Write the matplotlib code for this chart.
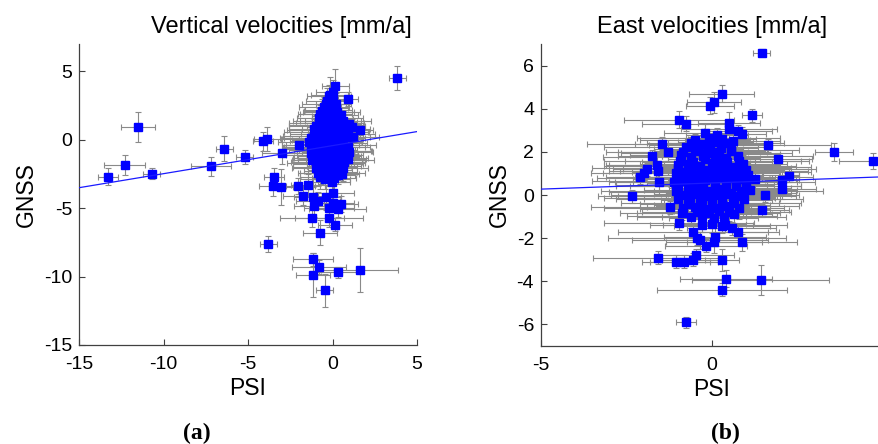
"""PSI vs GNSS velocity comparison: vertical (a) and east (b) components."""

import matplotlib
matplotlib.use("Agg")
import matplotlib.pyplot as plt
import numpy as np

# --- (a) vertical velocities [mm/a] -------------------------------------------
vert_psi = [
    3.82, -11.5, -12.3, -13.3, -10.7, -7.2, -6.4, -5.2, -4.1, -3.85, -3.0, -2.0,
    -3.45, -3.55, -3.05, -2.05, -1.75, -1.45, -1.15, -0.85, -1.1, -0.4, 0.05, 0.0,
    0.5, -0.2, 0.3, -1.2, -0.2, 0.15, -0.75, -3.8, -1.15, -0.8, -1.15, 0.3, 1.6,
    -0.45, 0.15, 0.0, -0.2, 0.9, 1.15, 1.6, 1.2, 1.0,
    # dense cluster
    -0.35, -0.1, 0.05, -0.5, -0.6, -0.25, 0.1, 0.25, -0.45,
    -0.8, -0.55, -0.3, 0.0, 0.3, 0.45, -0.15,
    -0.95, -0.7, -0.4, -0.1, 0.2, 0.5, 0.7, -0.85, 0.05,
    -1.1, -0.8, -0.55, -0.25, 0.0, 0.3, 0.6, 0.85, -1.0, -0.4, 0.15,
    -1.25, -0.95, -0.7, -0.45, -0.15, 0.1, 0.35, 0.65, 0.9, -1.4,
    -1.3, -1.0, -0.75, -0.5, -0.2, 0.05, 0.3, 0.55, 0.8, 1.0,
    -1.2, -0.9, -0.65, -0.35, -0.05, 0.2, 0.45, 0.7, 0.9,
    -1.0, -0.7, -0.45, -0.15, 0.1, 0.35, 0.6,
    -0.75, -0.45, -0.2, 0.1, 0.35, -0.05,
    -0.15, -0.4, 0.2, -0.05, -0.75, 0.5, -0.65, -0.3, 0.15, 0.6,
    -1.1, -0.5, -0.25, 0.35, 0.9, -1.25, -0.6, 0.45, -1.1, -0.55,
    0.25, -0.85, -0.1, 0.55, -0.55, -0.2, 0.3, -0.85, 0.0, 0.55,
]
vert_gnss = [
    4.5, 0.95, -1.85, -2.7, -2.5, -1.95, -0.65, -1.25, -0.1, 0.05, -1.0, -0.35,
    -2.7, -3.4, -3.45, -3.4, -4.1, -3.3, -4.15, -4.45, -4.85, -4.2, -3.9, -4.6,
    -4.7, -5.0, -5.05, -5.7, -5.75, -6.2, -6.8, -7.6, -8.75, -9.3, -9.9, -9.7, -9.5,
    -11.0, 3.9, 3.5, 3.2, 3.0, 0.95, 0.7, 0.2, 1.15,
    2.8, 2.6, 2.9, 2.4, 2.1, 2.2, 2.3, 2.0, 1.85,
    1.6, 1.4, 1.7, 1.5, 1.6, 1.3, 1.25,
    1.0, 0.8, 1.1, 0.9, 1.05, 0.75, 1.0, 0.6, 0.6,
    0.3, 0.15, 0.45, 0.2, 0.4, 0.1, 0.35, 0.2, -0.05, -0.1, -0.05,
    -0.4, -0.6, -0.3, -0.55, -0.35, -0.6, -0.4, -0.25, -0.55, -0.15,
    -1.0, -0.85, -1.1, -0.9, -1.2, -0.85, -1.05, -0.8, -1.15, -0.9,
    -1.5, -1.7, -1.4, -1.6, -1.45, -1.75, -1.5, -1.6, -1.4,
    -2.1, -2.3, -2.0, -2.2, -1.95, -2.35, -2.1,
    -2.7, -2.9, -2.6, -2.8, -2.55, -3.1,
    3.3, 2.6, 2.6, 2.05, 1.85, 1.8, 1.2, 1.35, 1.35, 1.4,
    0.75, 0.7, 0.65, 0.55, 0.55, 0.1, 0.05, -0.15, -0.7, -0.75,
    -0.75, -1.3, -1.3, -1.25, -1.8, -1.9, -1.7, -2.45, -2.4, -2.5,
]
vert_psi_err = [
    0.5, 1.0, 1.2, 0.6, 0.5, 1.2, 0.5, 0.5, 0.6, 0.8, 1.2, 1.0,
    0.6, 0.8, 0.7, 1.0, 1.2, 1.0, 1.1, 1.3, 1.2, 0.9, 1.2, 1.3,
    1.0, 1.5, 1.7, 1.9, 2.0, 1.0, 1.0, 0.5, 1.2, 1.6, 1.0, 1.3, 2.3,
    0.5, 0.8, 1.0, 1.3, 0.6, 0.8, 0.8, 1.0, 0.7,
    1.2, 0.9, 0.7, 1.5, 1.1, 1.4, 0.8, 1.0, 1.6,
    1.3, 1.8, 0.9, 1.2, 1.5, 1.0, 2.0,
    1.6, 1.1, 2.2, 1.4, 1.0, 1.7, 1.2, 2.0, 0.9,
    1.8, 2.3, 1.3, 1.0, 2.5, 1.6, 1.2, 1.9, 1.4, 2.1, 1.1,
    1.5, 2.0, 1.2, 2.4, 1.7, 1.0, 2.2, 1.4, 1.3, 1.8,
    1.6, 1.1, 2.0, 1.3, 1.9, 2.3, 1.2, 1.7, 1.0, 1.4,
    1.2, 1.8, 1.4, 2.1, 1.0, 1.6, 2.0, 1.2, 1.1,
    1.4, 1.0, 1.9, 1.3, 1.6, 1.1, 1.5,
    1.2, 1.5, 0.9, 1.3, 1.0, 1.1,
    1.1, 1.4, 0.9, 1.7, 1.2, 1.0, 1.9, 1.3, 2.1, 1.1,
    1.5, 2.2, 1.0, 1.8, 1.2, 1.6, 2.4, 1.3, 1.7, 2.0,
    1.1, 1.5, 2.2, 1.0, 1.8, 1.3, 1.6, 1.2, 1.9, 1.0,
]
vert_gnss_err = [
    0.9, 1.1, 0.7, 0.6, 0.4, 0.7, 0.9, 0.5, 0.7, 0.9, 0.8, 0.6,
    0.6, 0.7, 1.3, 0.6, 0.7, 0.8, 0.7, 0.6, 0.8, 0.9, 0.6, 0.7,
    0.6, 0.5, 0.6, 0.7, 0.6, 0.5, 0.9, 0.6, 0.5, 0.5, 1.6, 0.4, 1.6,
    1.2, 1.3, 0.9, 0.8, 0.5, 0.6, 0.5, 0.6, 0.4,
    1.0, 0.8, 1.2, 0.7, 0.9, 1.1, 0.8, 0.6, 0.9,
    0.7, 1.0, 0.8, 0.6, 0.9, 0.7, 1.1,
    0.8, 0.6, 0.9, 1.0, 0.7, 0.8, 0.6, 0.9, 0.7,
    0.9, 0.7, 1.0, 0.6, 0.8, 0.7, 0.9, 0.6, 0.8, 1.0, 0.7,
    0.7, 0.9, 0.6, 0.8, 1.0, 0.7, 0.9, 0.6, 0.8, 0.7,
    0.8, 0.6, 0.9, 0.7, 1.0, 0.8, 0.6, 0.9, 0.7, 0.8,
    0.9, 0.7, 0.8, 0.6, 1.0, 0.7, 0.8, 0.9, 0.6,
    0.8, 0.9, 0.7, 1.0, 0.8, 0.6, 0.9,
    0.9, 0.7, 0.8, 1.1, 0.7, 0.8,
    1.3, 0.9, 0.8, 1.0, 0.7, 0.8, 0.9, 0.6, 1.0, 0.7,
    0.8, 1.0, 0.7, 0.9, 0.6, 0.8, 0.7, 0.9, 0.8, 1.0,
    0.7, 0.8, 0.9, 0.6, 1.0, 0.8, 0.7, 0.9, 0.8, 0.6,
]
vert_fit = (0.205, -0.43)  # slope, intercept of the regression line

# --- (b) east velocities [mm/a] -----------------------------------------------
east_psi = [
    1.46, 0.29, 0.06, -0.06, 1.17, -0.96, -0.76, 0.5, 0.5, 0.76, 0.88, 1.64,
    3.57, 4.7, 1.93, 2.25, 2.05, 2.05, 1.26, -2.34, -1.46, -1.75, -1.6, -1.3,
    -1.9, -2.0, -2.1, -1.55, -1.58, 1.46, 0.88, 0.76, -1.58, -1.05, -0.82,
    -0.47, -0.55, 0.29, -0.17, 0.06, 0.41, 1.43, 0.29, -0.76, -0.96, -0.88,
    -1.23, -0.55, -0.44, -0.35, 0.09, 0.58, 0.38, 1.55,
    # dense cluster
    -0.2, 0.15,
    -0.5, -0.1, 0.3, 0.6,
    -0.75, -0.4, -0.05, 0.25, 0.55,
    -0.9, -0.6, -0.25, 0.1, 0.4, 0.75,
    -1.0, -0.7, -0.35, 0.0, 0.3, 0.6, 0.9,
    -1.05, -0.75, -0.45, -0.1, 0.2, 0.5, 0.8, 1.05,
    -1.1, -0.8, -0.5, -0.2, 0.1, 0.4, 0.7, 1.0,
    -1.05, -0.7, -0.4, -0.1, 0.25, 0.55, 0.85, 1.1,
    -1.0, -0.65, -0.3, 0.0, 0.3, 0.65, 0.95,
    -0.85, -0.5, -0.2, 0.15, 0.45, 0.8,
    -0.6, -0.3, 0.05, 0.35, 0.65,
    -0.3, 0.0, 0.3,
    -0.6, -0.25, 0.1, 0.4,
    -0.85, -0.5, -0.15, 0.2, 0.55,
    -0.95, -0.55, -0.2, 0.15, 0.45, 0.8,
    -1.0, -0.6, -0.25, 0.1, 0.4, 0.75, 1.0,
    -0.95, -0.65, -0.3, 0.05, 0.35, 0.65, 0.95,
    -1.0, -0.6, -0.25, 0.1, 0.4, 0.7, 1.0,
    -0.85, -0.5, -0.15, 0.15, 0.5, 0.8,
    -0.7, -0.35, 0.0, 0.3, 0.6,
    -0.45, -0.1, 0.2, 0.5,
]
east_gnss = [
    6.6, 4.7, 4.3, 4.15, 3.7, 3.5, 3.3, 3.35, 3.05, 2.95, 2.85, 2.3,
    2.0, 1.58, 1.67, 0.9, 0.7, 0.3, 0.73, -0.05, 2.37, 1.8, 1.4, 2.0,
    1.2, 1.0, 0.82, 0.6, 1.1, -0.7, -2.2, -1.7, -2.9, -3.1, -3.1,
    -2.8, -3.0, -3.0, -2.35, -2.2, -3.87, -3.95, -4.4, -5.9, -1.3, -0.85,
    -0.57, -1.7, -2.0, -2.1, -1.95, -1.55, -1.4, 0.0,
    2.9, 2.8,
    2.55, 2.65, 2.6, 2.5,
    2.25, 2.15, 2.3, 2.2, 2.1,
    1.85, 1.75, 1.8, 1.9, 1.7, 1.8,
    1.4, 1.45, 1.35, 1.5, 1.4, 1.3, 1.45,
    1.0, 1.05, 0.95, 1.1, 1.0, 0.9, 1.05, 0.95,
    0.6, 0.65, 0.55, 0.7, 0.6, 0.5, 0.65, 0.6,
    0.2, 0.25, 0.15, 0.2, 0.3, 0.1, 0.2, 0.25,
    -0.2, -0.15, -0.25, -0.2, -0.1, -0.25, -0.2,
    -0.6, -0.55, -0.65, -0.6, -0.5, -0.6,
    -1.0, -0.95, -1.05, -1.0, -0.9,
    -1.4, -1.35, -1.45,
    2.4, 2.35, 2.45, 2.4,
    2.0, 2.05, 1.95, 2.0, 2.05,
    1.6, 1.55, 1.65, 1.6, 1.55, 1.6,
    1.2, 1.25, 1.15, 1.2, 1.25, 1.2, 1.15,
    0.8, 0.85, 0.75, 0.8, 0.85, 0.8, 0.75,
    0.4, 0.45, 0.35, 0.4, 0.45, 0.4, 0.35,
    0.0, 0.05, -0.05, 0.0, 0.05, -0.05,
    -0.4, -0.35, -0.45, -0.4, -0.35,
    -0.8, -0.85, -0.75, -0.8,
]
east_psi_err = [
    0.25, 0.95, 0.8, 0.7, 0.3, 1.6, 1.3, 0.9, 1.4, 1.0, 0.7, 1.85,
    0.55, 1.0, 1.0, 0.3, 0.5, 1.0, 0.4, 1.0, 2.2, 1.0, 1.5, 1.8,
    1.0, 1.2, 1.0, 1.3, 1.1, 0.8, 1.6, 1.2, 1.9, 1.0, 1.0,
    1.1, 0.9, 0.5, 1.2, 1.4, 1.35, 2.0, 1.9, 0.3, 2.2, 1.8,
    2.3, 2.2, 2.6, 2.0, 1.5, 1.3, 1.8, 1.0,
    1.2, 0.9,
    1.6, 2.1, 1.0, 1.4,
    2.4, 1.3, 1.8, 1.1, 2.0,
    1.5, 2.6, 1.2, 1.9, 1.0, 2.2,
    2.0, 1.4, 2.8, 1.1, 1.7, 2.3, 1.3,
    2.5, 1.6, 1.2, 2.9, 1.8, 1.0, 2.1, 1.5,
    1.9, 2.7, 1.4, 1.1, 2.4, 1.7, 1.2, 2.0,
    2.2, 1.3, 2.6, 1.6, 1.0, 1.9, 2.4, 1.4,
    1.8, 2.5, 1.2, 2.0, 1.5, 1.1, 1.7,
    2.3, 1.4, 1.9, 1.0, 2.1, 1.3,
    1.6, 2.2, 1.3, 1.8, 1.1,
    1.5, 1.0, 1.4,
    1.3, 2.0, 1.1, 1.7,
    1.9, 1.2, 2.5, 1.4, 1.0,
    2.2, 1.5, 1.1, 2.7, 1.3, 1.8,
    1.6, 2.9, 1.2, 2.0, 1.4, 2.3, 1.1,
    2.4, 1.3, 2.0, 1.7, 2.6, 1.2, 1.5,
    1.8, 2.2, 1.0, 2.5, 1.4, 1.9, 1.3,
    2.1, 1.2, 2.6, 1.5, 1.8, 1.1,
    1.4, 2.3, 1.7, 1.2, 2.0,
    1.6, 2.1, 1.3, 1.8,
]
east_gnss_err = [
    0.15, 0.4, 0.5, 0.4, 0.3, 0.4, 0.35, 0.5, 0.4, 0.3, 0.3, 0.3,
    0.4, 0.35, 0.3, 0.3, 0.4, 0.5, 0.3, 0.3, 0.3, 0.3, 0.4, 0.4,
    0.3, 0.3, 0.3, 0.4, 0.3, 0.3, 0.4, 0.3, 0.3, 0.3, 0.3,
    0.3, 0.3, 0.5, 0.3, 0.5, 0.4, 0.7, 0.3, 0.25, 0.3, 0.3,
    0.3, 0.3, 0.3, 0.4, 0.4, 0.3, 0.3, 0.3,
    0.4, 0.3,
    0.3, 0.4, 0.3, 0.5,
    0.4, 0.3, 0.5, 0.3, 0.4,
    0.3, 0.4, 0.3, 0.5, 0.3, 0.4,
    0.4, 0.3, 0.4, 0.3, 0.5, 0.3, 0.4,
    0.3, 0.5, 0.3, 0.4, 0.3, 0.4, 0.3, 0.5,
    0.4, 0.3, 0.5, 0.3, 0.4, 0.3, 0.4, 0.3,
    0.3, 0.4, 0.3, 0.5, 0.3, 0.4, 0.3, 0.4,
    0.4, 0.3, 0.4, 0.3, 0.5, 0.3, 0.4,
    0.3, 0.4, 0.3, 0.4, 0.3, 0.5,
    0.4, 0.3, 0.4, 0.3, 0.4,
    0.3, 0.4, 0.3,
    0.3, 0.4, 0.3, 0.4,
    0.4, 0.3, 0.5, 0.3, 0.4,
    0.3, 0.4, 0.3, 0.4, 0.5, 0.3,
    0.4, 0.3, 0.5, 0.3, 0.4, 0.3, 0.4,
    0.3, 0.4, 0.3, 0.5, 0.3, 0.4, 0.3,
    0.4, 0.3, 0.4, 0.3, 0.5, 0.3, 0.4,
    0.3, 0.5, 0.3, 0.4, 0.3, 0.4,
    0.4, 0.3, 0.4, 0.3, 0.5,
    0.3, 0.4, 0.3, 0.4,
]
east_fit = (0.057, 0.56)

plt.rcParams["font.family"] = ["Liberation Sans", "DejaVu Sans"]
plt.rcParams["axes.unicode_minus"] = False

BLUE = "#0000ff"
GREY = "#8a8a8a"


def panel(ax, psi, gnss, psi_err, gnss_err, fit, title, xlim, ylim, xticks, yticks,
          title_x=0.5):
    ax.errorbar(psi, gnss, xerr=psi_err, yerr=gnss_err, fmt="none",
                ecolor=GREY, elinewidth=0.8, capsize=2, capthick=0.8, zorder=2)
    ax.plot(psi, gnss, ls="none", marker="s", ms=6, mfc=BLUE, mec=BLUE, zorder=3)
    xs = np.array(xlim, dtype=float)
    ax.plot(xs, fit[0] * xs + fit[1], color="#1a1aff", lw=0.9, zorder=4)
    ax.set_xlim(xlim); ax.set_ylim(ylim)
    ax.set_xticks(xticks); ax.set_yticks(yticks)
    for s in ("top", "right"):
        ax.spines[s].set_visible(False)
    for s in ("left", "bottom"):
        ax.spines[s].set_color("#404040")
        ax.spines[s].set_linewidth(0.9)
    ax.tick_params(direction="in", length=4, width=0.8, color="#404040",
                   labelsize=14)
    ax.tick_params(axis="x", pad=8)
    ax.tick_params(axis="y", pad=5)
    ax.set_xlabel("PSI", fontsize=16.5, labelpad=3)
    ax.set_ylabel("GNSS", fontsize=16.5, labelpad=4)
    ax.set_title(title, fontsize=17, pad=8, x=title_x)


fig = plt.figure(figsize=(8.79, 4.44), dpi=100)
ax1 = fig.add_axes([0.0899, 0.223, 0.3845, 0.678])
ax2 = fig.add_axes([0.6155, 0.2207, 0.389, 0.680])

panel(ax1, vert_psi, vert_gnss, vert_psi_err, vert_gnss_err, vert_fit,
      "Vertical velocities [mm/a]", (-15, 5), (-15, 7), [-15, -10, -5, 0, 5],
      [-15, -10, -5, 0, 5], title_x=0.6)
panel(ax2, east_psi, east_gnss, east_psi_err, east_gnss_err, east_fit,
      "East velocities [mm/a]", (-5, 5), (-7, 7), [-5, 0, 5],
      [-6, -4, -2, 0, 2, 4, 6])

for x, lab in ((197, "(a)"), (725, "(b)")):
    fig.text(x / 879, 1 - 433 / 444, lab, ha="center", va="center",
             fontsize=17, fontweight="bold", family=["Liberation Serif", "DejaVu Serif"])

fig.savefig("out.png", dpi=100, facecolor="white")
